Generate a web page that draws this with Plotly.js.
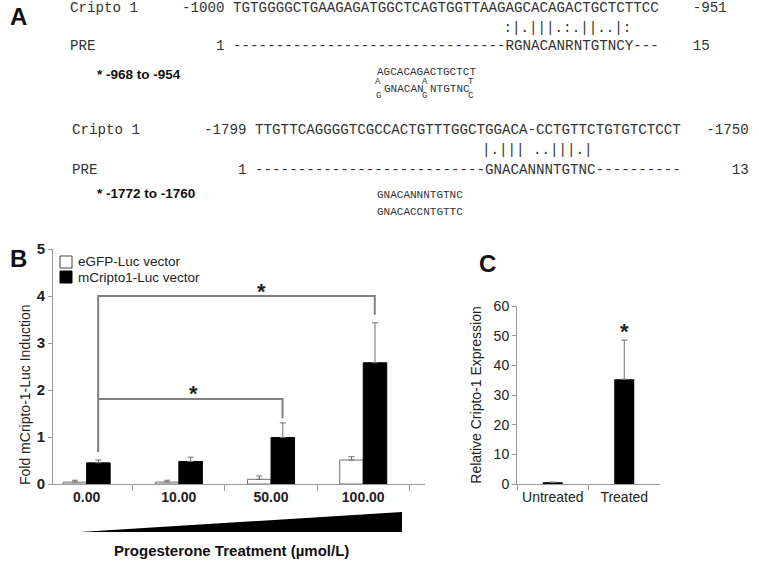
<!DOCTYPE html>
<html>
<head>
<meta charset="utf-8">
<script src="https://cdn.plot.ly/plotly-3.0.1.min.js"></script>
<style>
  html, body { margin: 0; padding: 0; background: #fff; }
  #fig { width: 759px; height: 562px; }
</style>
</head>
<body>
<div id="fig"></div>
<script>
// Panel B: luciferase assay
const doses = ['0.00', '10.00', '50.00', '100.00'];
const egfpMean = [0.04, 0.04, 0.10, 0.51];
const egfpErr = [0.04, 0.04, 0.07, 0.07];
const criptoMean = [0.45, 0.48, 0.99, 2.58];
const criptoErr = [0.06, 0.09, 0.31, 0.85];
const seriesNames = ['eGFP-Luc vector', 'mCripto1-Luc vector'];

// Panel C: qPCR
const groupsC = ['Untreated', 'Treated'];
const exprMean = [0.6, 35.3];
const exprErr = [0, 13.2];

// Panel A: alignment text
const cripto1Seq = 'TGTGGGGCTGAAGAGATGGCTCAGTGGTTAAGAGCACAGACTGCTCTTCC';
const pre1Seq = '--------------------------------RGNACANRNTGTNCY---';
const match1 = ':|.|||.:.||..|:';
const cripto2Seq = 'TTGTTCAGGGGTCGCCACTGTTTGGCTGGACA-CCTGTTCTGTGTCTCCT';
const pre2Seq = '---------------------------GNACANNNTGTNC----------';
const match2 = '|.||| ..|||.|';
// degenerate consensus, written with stacked alternatives
const stackTop = ['A', 'A', 'T'];
const stackBottom = ['G', 'G', 'C'];
const stackCols = [0, 7, 14];
const stackRuns = [['GNACAN', 1], ['NTGTNC', 8]];

const W = 759, H = 562;
const px = x => x / W;
const py = y => 1 - y / H;
const nb = s => s.replace(/ /g, '\u00A0');
const pad = n => ' '.repeat(n);

const SANS = 'Liberation Sans, Arial, sans-serif';
const MONO = 'Liberation Mono, Courier New, monospace';

function txt(x, y, text, opts) {
  opts = opts || {};
  return {
    xref: 'paper', yref: 'paper', x: px(x), y: py(y),
    xanchor: opts.xanchor || 'left', yanchor: 'middle',
    text: nb(text), showarrow: false, textangle: opts.angle || 0,
    font: { family: opts.family || MONO, size: opts.size || 14.2, color: opts.color || '#333', weight: opts.weight || 'normal' }
  };
}

const annotations = [
  // panel letters
  txt(8, 16, 'A', { family: SANS, size: 24, weight: 'bold', color: '#111' }),
  txt(8, 258, 'B', { family: SANS, size: 24, weight: 'bold', color: '#111' }),
  txt(477, 263, 'C', { family: SANS, size: 24, weight: 'bold', color: '#111' }),

  // block 1
  txt(68, 8, 'Cripto 1'),
  txt(180, 8, '-1000 ' + cripto1Seq + '    -951'),
  txt(178, 28, pad(6 + 32) + match1),
  txt(68, 46, 'PRE'),
  txt(180, 46, '    1 ' + pre1Seq + '    15'),
  txt(95, 75, '* -968 to -954', { family: SANS, size: 13.5, weight: 'bold', color: '#111' }),
  txt(375, 72, 'AGCACAGACTGCTCT', { size: 11 }),

  // block 2
  txt(70, 130, 'Cripto 1'),
  txt(202, 130, '-1799 ' + cripto2Seq + '   -1750'),
  txt(199, 150, pad(6 + 27) + match2),
  txt(70, 170, 'PRE'),
  txt(202, 170, '    1 ' + pre2Seq + '      13'),
  txt(95, 193, '* -1772 to -1760', { family: SANS, size: 13.5, weight: 'bold', color: '#111' }),
  txt(375, 195, 'GNACANNNTGTNC', { size: 11 }),
  txt(375, 212, 'GNACACCNTGTTC', { size: 11 }),

  // panel B legend text and titles
  txt(76, 262, seriesNames[0], { family: SANS, size: 13.5, color: '#222' }),
  txt(76, 277, seriesNames[1], { family: SANS, size: 13.5, color: '#222' }),
  txt(25, 395, 'Fold mCripto-1-Luc Induction', { family: SANS, size: 14, color: '#222', angle: -90, xanchor: 'center' }),
  txt(231, 550, 'Progesterone Treatment (µmol/L)', { family: SANS, size: 15, weight: 'bold', color: '#111', xanchor: 'center' }),

  // significance stars
  { xref: 'x', yref: 'y', x: 1.9, y: 4.1, text: '*', showarrow: false, font: { family: SANS, size: 22, weight: 'bold', color: '#222' } },
  { xref: 'x', yref: 'y', x: 1.155, y: 1.92, text: '*', showarrow: false, font: { family: SANS, size: 22, weight: 'bold', color: '#222' } },
  { xref: 'x2', yref: 'y2', x: 1, y: 51.5, text: '*', showarrow: false, font: { family: SANS, size: 22, weight: 'bold', color: '#222' } }
];

// stacked degenerate bases below AGCACAGACTGCTCT (11px mono: 6.6px per column)
const colW = 6.6;
stackCols.forEach((c, i) => {
  annotations.push(txt(375 + (c + 0.5) * colW, 82, stackTop[i], { size: 9, xanchor: 'center' }));
  annotations.push(txt(375 + (c + 0.5) * colW, 96, stackBottom[i], { size: 9, xanchor: 'center' }));
});
stackRuns.forEach(r => {
  annotations.push(txt(375 + r[1] * colW, 89, r[0], { size: 11 }));
});

const bracketLine = { color: '#808080', width: 2 };
const shapes = [
  { type: 'path', xref: 'x', yref: 'y', path: 'M 0.125 0.68 L 0.125 4.0 L 3.125 4.0 L 3.125 3.6', line: bracketLine },
  { type: 'path', xref: 'x', yref: 'y', path: 'M 0.125 1.81 L 2.125 1.81 L 2.125 1.40', line: bracketLine },
  // dose wedge
  { type: 'path', xref: 'paper', yref: 'paper',
    path: 'M ' + px(80) + ' ' + py(532) + ' L ' + px(402) + ' ' + py(512) + ' L ' + px(402) + ' ' + py(532) + ' Z',
    fillcolor: '#000', line: { width: 0 } },
  // legend swatches
  { type: 'rect', xref: 'paper', yref: 'paper', x0: px(60), x1: px(72), y0: py(268), y1: py(256),
    fillcolor: '#fff', line: { color: '#444', width: 1 } },
  { type: 'rect', xref: 'paper', yref: 'paper', x0: px(60), x1: px(72), y0: py(283), y1: py(271),
    fillcolor: '#000', line: { color: '#000', width: 1 } }
];

const errStyle = { type: 'data', symmetric: false, color: '#707070', thickness: 1, width: 3 };

const data = [
  {
    type: 'bar', name: seriesNames[0], x: doses, y: egfpMean,
    marker: { color: '#fff', line: { color: '#707070', width: 1 } },
    error_y: Object.assign({ array: egfpErr, arrayminus: egfpErr.map(() => 0) }, errStyle),
    xaxis: 'x', yaxis: 'y'
  },
  {
    type: 'bar', name: seriesNames[1], x: doses, y: criptoMean,
    marker: { color: '#000', line: { color: '#000', width: 1 } },
    error_y: Object.assign({ array: criptoErr, arrayminus: criptoErr.map(() => 0) }, errStyle),
    xaxis: 'x', yaxis: 'y'
  },
  {
    type: 'bar', name: 'Cripto-1', x: groupsC, y: exprMean, width: 0.28,
    marker: { color: '#000' },
    error_y: Object.assign({ array: exprErr, arrayminus: exprErr.map(() => 0) }, errStyle),
    xaxis: 'x2', yaxis: 'y2'
  }
];

const axisBase = {
  showline: true, linecolor: '#999', linewidth: 1, ticks: 'outside', tickcolor: '#999',
  showgrid: false, zeroline: false, fixedrange: true
};

const layout = {
  width: W, height: H,
  margin: { l: 0, r: 0, t: 0, b: 0 },
  paper_bgcolor: '#fff', plot_bgcolor: 'rgba(0,0,0,0)',
  font: { family: SANS, color: '#222' },
  barmode: 'group', bargap: 0.49, bargroupgap: 0,
  showlegend: false,
  xaxis: Object.assign({}, axisBase, {
    domain: [px(53), px(425)], anchor: 'y', type: 'category', range: [-0.365, 3.67],
    tickson: 'boundaries', ticklen: 6,
    tickfont: { family: SANS, size: 14, weight: 'bold', color: '#222' }
  }),
  yaxis: Object.assign({}, axisBase, {
    domain: [py(484), py(249)], anchor: 'x', range: [0, 5], dtick: 1, ticklen: 4,
    tickfont: { family: SANS, size: 15, weight: 'bold', color: '#222' }
  }),
  xaxis2: Object.assign({}, axisBase, {
    domain: [px(517), px(660)], anchor: 'y2', type: 'category', range: [-0.5, 1.5],
    tickson: 'boundaries', ticklen: 5,
    tickfont: { family: SANS, size: 14, color: '#222' }
  }),
  yaxis2: Object.assign({}, axisBase, {
    domain: [py(484), py(306)], anchor: 'x2', range: [0, 60], dtick: 10, ticklen: 4,
    tickfont: { family: SANS, size: 14, color: '#222' },
    title: { text: 'Relative Cripto-1 Expression', font: { family: SANS, size: 14, color: '#222' }, standoff: 8 }
  }),
  annotations: annotations,
  shapes: shapes
};

Plotly.newPlot('fig', data, layout, { staticPlot: true, displayModeBar: false });
</script>
</body>
</html>
